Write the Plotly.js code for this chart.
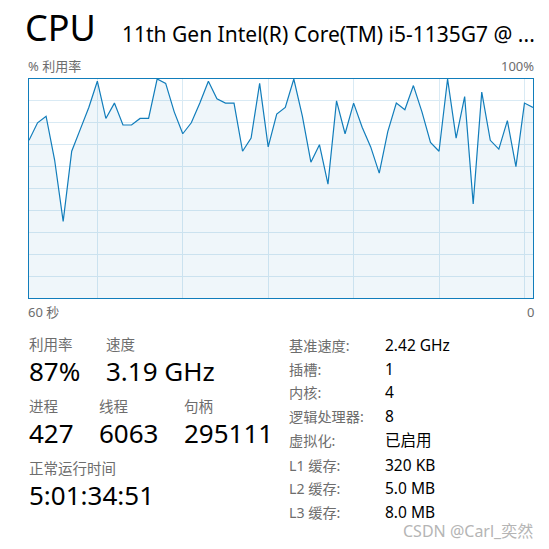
<!DOCTYPE html>
<html>
<head>
<meta charset="utf-8">
<script src="https://cdn.plot.ly/plotly-3.0.1.min.js"></script>
<style>html,body{margin:0;padding:0;background:#fff;}#chart{width:549px;height:549px;}</style>
</head>
<body>
<div id="chart"></div>
<script>
// ---- data ----
const seconds = Array.from({length: 60}, (_, i) => i);
const cpuUsage = [72, 80, 83, 63, 35, 67, 77, 87, 99, 82, 89, 79, 79, 82, 82, 100, 98, 85, 75, 80,
                  89, 99, 91, 89, 89, 67, 73, 98, 69, 84, 87, 100, 83, 62, 70, 52, 90, 75, 89, 78,
                  69, 57, 76, 89, 86, 97, 85, 71, 67, 100, 73, 92, 43, 94, 72, 68, 81, 60, 89, 87];
const titleText = "CPU";
const modelText = "11th Gen Intel(R) Core(TM) i5-1135G7 @ ...";
const axisTopLeft = "% 利用率", axisTopRight = "100%";
const axisBottomLeft = "60 秒", axisBottomRight = "0";
const bigLabels = ["利用率", "速度", "进程", "线程", "句柄", "正常运行时间"];
const bigValues = ["87%", "3.19 GHz", "427", "6063", "295111", "5:01:34:51"];
const specLabels = ["基准速度:", "插槽:", "内核:", "逻辑处理器:", "虚拟化:", "L1 缓存:", "L2 缓存:", "L3 缓存:"];
const specValues = ["2.42 GHz", "1", "4", "8", "已启用", "320 KB", "5.0 MB", "8.0 MB"];
const watermark = "CSDN @Carl_奕然";

// ---- layout helpers (pixel -> paper) ----
const L = 29, R = 533, T = 79, B = 298;
const px = x => (x - L) / (R - L);
const py = y => (B - y) / (B - T);
const FONT = "Noto Sans, Noto Sans CJK SC, sans-serif";
const GRAY = "#6d6d6d";
function ann(text, x, y, size, color, xanchor) {
  return {text: text, x: px(x), y: py(y), xref: "paper", yref: "paper", showarrow: false,
          xanchor: xanchor || "left", yanchor: "middle", borderpad: 0,
          font: {family: FONT, size: size, color: color}};
}
const anns = [];
anns.push(ann(titleText, 24, 28, 36, "#000"));
anns.push(ann(modelText, 121, 34, 21, "#000"));
anns.push(ann(axisTopLeft, 27, 66, 13, GRAY));
anns.push(ann(axisTopRight, 535, 66, 13, GRAY, "right"));
anns.push(ann(axisBottomLeft, 27, 312, 13, GRAY));
anns.push(ann(axisBottomRight, 535, 312, 13, GRAY, "right"));
const bigPos = [[28, 344, 371], [105, 344, 371], [28, 406, 433], [98, 406, 433], [183, 406, 433], [28, 468, 495]];
bigLabels.forEach((t, i) => {
  anns.push(ann(t, bigPos[i][0], bigPos[i][1], 14.5, GRAY));
  anns.push(ann(bigValues[i], bigPos[i][0], bigPos[i][2], 26, "#000"));
});
const specY = [345, 369, 392, 416, 440, 465, 488, 512];
specLabels.forEach((t, i) => {
  anns.push(ann(t, 288, specY[i], 14.2, GRAY));
  anns.push(ann(specValues[i], 384, specY[i], 15.5, "#000"));
});
anns.push(ann(watermark, 534, 531, 16, "#b5b5b5", "right"));

const trace = {
  x: seconds, y: cpuUsage, type: "scatter", mode: "lines",
  line: {color: "#117dbb", width: 1.2},
  fill: "tozeroy", fillcolor: "rgba(17,125,187,0.065)",
  hoverinfo: "skip"
};
const axisCommon = {showticklabels: false, ticks: "", zeroline: false, showgrid: true,
  gridcolor: "#d9eaf4", gridwidth: 1, showline: true, mirror: true, linecolor: "#117dbb", linewidth: 1.2, fixedrange: true};
const layout = {
  width: 549, height: 549,
  margin: {l: L, r: 549 - R, t: T, b: 549 - B},
  paper_bgcolor: "#fff", plot_bgcolor: "#fff",
  showlegend: false,
  xaxis: Object.assign({range: [0, 59], tick0: 8, dtick: 10}, axisCommon),
  yaxis: Object.assign({range: [0, 100], dtick: 10}, axisCommon),
  annotations: anns
};
Plotly.newPlot("chart", [trace], layout, {displayModeBar: false, staticPlot: true});
</script>
</body>
</html>
